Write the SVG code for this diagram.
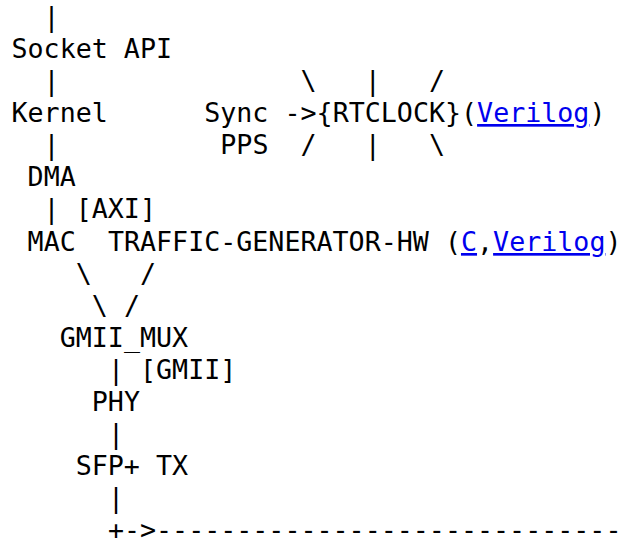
<svg xmlns="http://www.w3.org/2000/svg" width="619" height="538" viewBox="0 0 619 538">
<style>
text{font-family:"DejaVu Sans Mono",monospace;font-size:26.67px;fill:#000;white-space:pre}
.link{fill:#0000ee;text-decoration:underline}
</style>
<rect width="619" height="538" fill="#fff"/>
<g id="connectors">
<text x="43.6" y="26">|</text>
<text x="43.6" y="90">|</text>
<text x="300.6" y="90">\</text>
<text x="364.8" y="90">|</text>
<text x="429.1" y="90">/</text>
<text x="284.5" y="122">-&gt;</text>
<text x="43.6" y="154">|</text>
<text x="300.6" y="154">/</text>
<text x="364.8" y="154">|</text>
<text x="429.1" y="154">\</text>
<text x="43.6" y="218">|</text>
<text x="75.7" y="218">[AXI]</text>
<text x="75.7" y="283">\</text>
<text x="140" y="283">/</text>
<text x="91.8" y="315">\</text>
<text x="123.9" y="315">/</text>
<text x="107.9" y="379">|</text>
<text x="140" y="379">[GMII]</text>
<text x="107.9" y="443">|</text>
<text x="107.9" y="507">|</text>
<text x="107.9" y="539">+-&gt;-----------------------------</text>
</g>
<g id="socket-api"><text x="11.5" y="58">Socket API</text></g>
<g id="kernel"><text x="11.5" y="122">Kernel</text></g>
<g id="sync"><text x="204.2" y="122">Sync</text></g>
<g id="rtclock"><text x="316.6" y="122">{RTCLOCK}(<tspan class="link">Verilog</tspan>)</text></g>
<g id="pps"><text x="220.3" y="154">PPS</text></g>
<g id="dma"><text x="27.6" y="186">DMA</text></g>
<g id="mac"><text x="27.6" y="251">MAC</text></g>
<g id="traffic-generator-hw"><text x="107.9" y="251">TRAFFIC-GENERATOR-HW (<tspan class="link">C</tspan>,<tspan class="link">Verilog</tspan>)</text></g>
<g id="gmii-mux"><text x="59.7" y="347">GMII_MUX</text></g>
<g id="phy"><text x="91.8" y="411">PHY</text></g>
<g id="sfp-tx"><text x="75.7" y="475">SFP+ TX</text></g>
</svg>
